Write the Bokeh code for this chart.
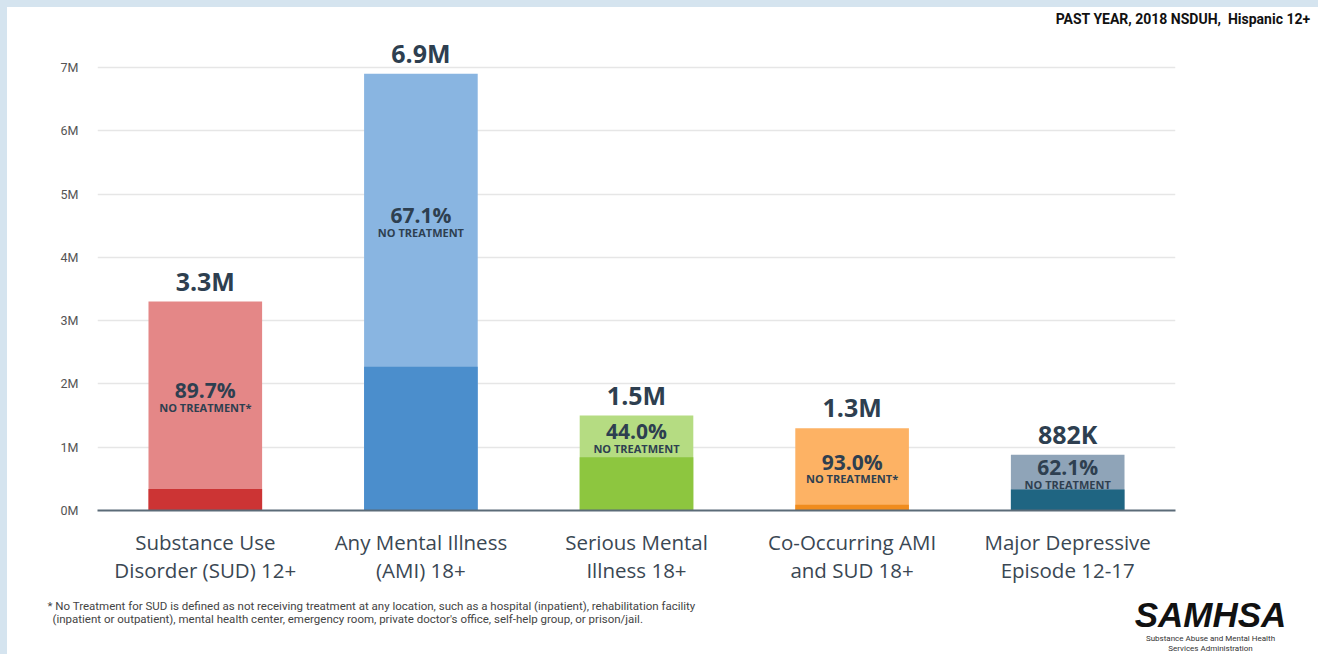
from bokeh.plotting import figure
from bokeh.layouts import column
from bokeh.models import FactorRange, Range1d, FixedTicker, ColumnDataSource
from bokeh.core.properties import value
from bokeh.embed import file_html
from bokeh.resources import INLINE

# ---- data ----
categories = ["Substance Use\nDisorder (SUD) 12+", "Any Mental Illness\n(AMI) 18+",
              "Serious Mental\nIllness 18+", "Co-Occurring AMI\nand SUD 18+",
              "Major Depressive\nEpisode 12-17"]
totals_m = [3.3, 6.9, 1.5, 1.3, 0.882]          # millions
treated_m = [0.34, 2.27, 0.84, 0.09, 0.33]       # millions (dark segment)
total_labels = ["3.3M", "6.9M", "1.5M", "1.3M", "882K"]
pct_labels = ["89.7%", "67.1%", "44.0%", "93.0%", "62.1%"]
note_labels = ["NO TREATMENT*", "NO TREATMENT", "NO TREATMENT", "NO TREATMENT*", "NO TREATMENT"]
y_ticks = [0, 1, 2, 3, 4, 5, 6, 7]
y_tick_labels = ["0M", "1M", "2M", "3M", "4M", "5M", "6M", "7M"]
header_text = "PAST YEAR, 2018 NSDUH,\u00a0 Hispanic 12+"
footnote_lines = ["* No Treatment for SUD is defined as not receiving treatment at any location, such as a hospital (inpatient), rehabilitation facility",
                  "(inpatient or outpatient), mental health center, emergency room, private doctor's office, self-help group, or prison/jail."]
logo_text = "SAMHSA"
logo_sub = ["Substance Abuse and Mental Health", "Services Administration"]

light_colors = ["#e48787", "#89b5e1", "#b5dc82", "#fdb264", "#8fa4b8"]
dark_colors = ["#cc3434", "#4b8ecc", "#8dc63f", "#f08c1e", "#1f6582"]

TXT = "#2e3f50"
FONT = "Open Sans"
W = 1311


def blank(height):
    f = figure(width=W, height=height, x_range=Range1d(0, W), y_range=Range1d(0, height),
               output_backend="svg", toolbar_location=None, min_border=0,
               min_border_left=0, min_border_right=0, min_border_top=0, min_border_bottom=0)
    f.axis.visible = False
    f.grid.visible = False
    f.outline_line_color = None
    f.background_fill_color = "white"
    f.border_fill_color = "white"
    f.frame_align = False
    return f


# ---- header ----
hf = blank(26)
hf.text(x=[W - 8], y=[15], text=[header_text], text_align="right", text_baseline="middle",
        text_font=value("Roboto"), text_font_style="bold", text_font_size="14px",
        text_color="#111111")

# ---- main chart ----
mid_light = [(t + d) / 2 for t, d in zip(totals_m, treated_m)]
src = ColumnDataSource(dict(cat=categories, total=totals_m, treated=treated_m,
                            tl=total_labels, pl=pct_labels, nl=note_labels,
                            mid=mid_light, lc=light_colors, dc=dark_colors))

p = figure(width=W, height=562, x_range=FactorRange(*categories),
           y_range=Range1d(0, 7.425), output_backend="svg", toolbar_location=None,
           min_border_left=90, min_border_right=143, min_border_top=7,
           min_border_bottom=85)
p.outline_line_color = None
p.background_fill_color = "white"
p.border_fill_color = "white"
p.frame_align = False

p.vbar(x="cat", top="total", bottom=0, width=0.527, fill_color="lc", line_color=None, source=src)
p.vbar(x="cat", top="treated", bottom=0, width=0.527, fill_color="dc", line_color=None, source=src)

p.text(x="cat", y="total", text="tl", source=src, text_align="center", text_baseline="middle",
       y_offset=-21, text_font=value(FONT), text_font_style="bold", text_font_size="25px",
       text_color=TXT)
p.text(x="cat", y="mid", text="pl", source=src, text_align="center", text_baseline="middle",
       y_offset=-5, text_font=value(FONT), text_font_style="bold", text_font_size="21px",
       text_color=TXT)
p.text(x="cat", y="mid", text="nl", source=src, text_align="center", text_baseline="middle",
       y_offset=12, text_font=value(FONT), text_font_style="bold", text_font_size="11px",
       text_color=TXT)

p.yaxis.ticker = FixedTicker(ticks=y_ticks)
p.yaxis.major_label_overrides = {t: l for t, l in zip(y_ticks, y_tick_labels)}
p.yaxis.axis_line_color = None
p.yaxis.major_tick_line_color = None
p.yaxis.major_tick_out = 0
p.yaxis.major_tick_in = 0
p.yaxis.minor_tick_line_color = None
p.yaxis.major_label_standoff = 19
p.yaxis.major_label_text_font = "Roboto"
p.yaxis.major_label_text_font_size = "12.5px"
p.yaxis.major_label_text_color = "#555555"

p.xaxis.axis_line_color = "#5b6b78"
p.xaxis.axis_line_width = 2
p.xaxis.major_tick_line_color = None
p.xaxis.major_tick_out = 0
p.xaxis.major_tick_in = 0
p.xaxis.minor_tick_line_color = None
p.xaxis.major_label_standoff = 17
p.xaxis.major_label_text_font = FONT
p.xaxis.major_label_text_font_size = "20.5px"
p.xaxis.major_label_text_line_height = 1.0
p.xaxis.major_label_text_color = "#3a4753"

p.xgrid.grid_line_color = None
p.ygrid.grid_line_color = "#e6e6e6"
p.ygrid.grid_line_width = 1.5

# ---- footer ----
ff = blank(59)
ff.text(x=[40, 45], y=[49, 36], text=footnote_lines, text_align="left", text_baseline="middle",
        text_font=value("Roboto"), text_font_size="11.5px", text_color="#444444")
ff.text(x=[1203], y=[40], text=[logo_text], text_align="center", text_baseline="middle",
        text_font=value("Liberation Sans"), text_font_style="bold italic",
        text_font_size="35px", text_color="#111111")
ff.text(x=[1203, 1203], y=[16, 6], text=logo_sub, text_align="center", text_baseline="middle",
        text_font=value("Roboto"), text_font_size="8px", text_color="#333333")

layout = column(hf, p, ff, spacing=0)

html = file_html(layout, INLINE)
html = html.replace("</head>",
                    "<style>html{background-color:#d5e4ef;margin:0;padding:7px 0 0 7px;overflow:hidden;}"
                    "body{background-color:#ffffff;margin:0;padding:0;overflow:hidden;}</style></head>", 1)
open("out.html", "w").write(html)
